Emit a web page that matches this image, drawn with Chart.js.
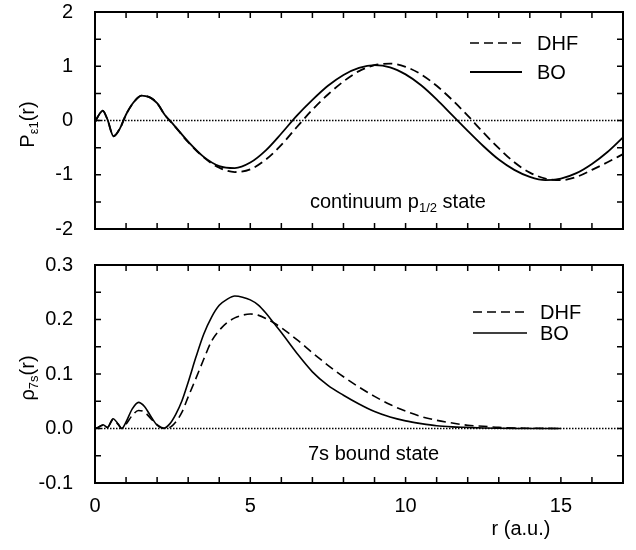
<!DOCTYPE html>
<html>
<head>
<meta charset="utf-8">
<script src="https://cdn.jsdelivr.net/npm/chart.js@4"></script>
<style>
  body { margin: 0; background: #fff; }
  canvas { position: absolute; left: 0; }
</style>
</head>
<body>
<canvas id="topChart" width="636" height="250" style="top:0px"></canvas>
<canvas id="bottomChart" width="636" height="300" style="top:250px"></canvas>
<script>
// ---- top panel: continuum p1/2 wave function ----
const rTop = [0, 0.1, 0.25, 0.4, 0.6, 0.8, 1.0, 1.25, 1.5, 1.75, 2.0, 2.25, 2.5, 3, 3.5, 4, 4.5, 5, 5.5, 6, 6.5, 7, 7.5, 8, 8.5, 9, 9.5, 10, 10.5, 11, 11.5, 12, 12.5, 13, 13.5, 14, 14.5, 15, 15.5, 16, 16.5, 17];
const dhfTop = [-0.03, 0.08, 0.18, 0.02, -0.29, -0.15, 0.11, 0.34, 0.46, 0.43, 0.32, 0.1, -0.06, -0.4, -0.68, -0.87, -0.95, -0.9, -0.72, -0.45, -0.12, 0.2, 0.48, 0.72, 0.91, 1.02, 1.05, 0.99, 0.85, 0.64, 0.38, 0.09, -0.22, -0.51, -0.77, -0.96, -1.07, -1.1, -1.04, -0.91, -0.77, -0.62];
const boTop = [-0.03, 0.08, 0.18, 0.02, -0.29, -0.15, 0.11, 0.34, 0.46, 0.43, 0.32, 0.1, -0.056, -0.39, -0.67, -0.84, -0.877, -0.775, -0.55, -0.24, 0.09, 0.38, 0.64, 0.84, 0.97, 1.02, 0.98, 0.85, 0.65, 0.39, 0.1, -0.19, -0.47, -0.72, -0.91, -1.04, -1.1, -1.07, -0.97, -0.8, -0.58, -0.31];

// ---- bottom panel: 7s bound state density ----
const rBot = [0, 0.1, 0.26, 0.4, 0.58, 0.75, 0.86, 1.0, 1.2, 1.4, 1.6, 1.8, 2.0, 2.2, 2.4, 2.6, 2.8, 3.0, 3.25, 3.5, 3.75, 4, 4.25, 4.5, 4.75, 5, 5.25, 5.5, 5.75, 6, 6.5, 7, 7.5, 8, 8.5, 9, 9.5, 10, 10.5, 11, 11.5, 12, 12.5, 13, 13.5, 14, 14.5, 15];
const dhfBot = [0, 0.002, 0.006, 0.002, 0.016, 0.007, 0.0, 0.008, 0.024, 0.033, 0.03, 0.018, 0.007, 0.001, 0.002, 0.012, 0.03, 0.058, 0.092, 0.127, 0.16, 0.18, 0.194, 0.203, 0.208, 0.21, 0.208, 0.202, 0.194, 0.185, 0.163, 0.139, 0.116, 0.095, 0.076, 0.059, 0.044, 0.032, 0.022, 0.015, 0.01, 0.006, 0.004, 0.002, 0.001, 0.0005, 0.0002, 0];
const boBot = [0, 0.002, 0.007, 0.002, 0.018, 0.008, 0.0, 0.012, 0.036, 0.048, 0.04, 0.022, 0.006, 0.0, 0.008, 0.026, 0.051, 0.085, 0.131, 0.173, 0.204, 0.226, 0.237, 0.243, 0.241, 0.236, 0.227, 0.212, 0.194, 0.176, 0.138, 0.104, 0.079, 0.061, 0.045, 0.031, 0.021, 0.014, 0.009, 0.005, 0.003, 0.002, 0.001, 0.0005, 0.0002, 0, 0, 0];

const zeroLineX = [0, 17];
const zeroLineY = [0, 0];

const xTicksBottom = [0, 5, 10, 15];

const FONT = '"Liberation Sans", Arial, Helvetica, sans-serif';

function pts(xs, ys) {
  return xs.map((x, i) => ({ x: x, y: ys[i] }));
}

// draws a list of text pieces, some as subscripts, starting at x
function drawParts(ctx, parts, x, y) {
  parts.forEach((p) => {
    ctx.font = (p.sub ? '13px ' : '20px ') + FONT;
    ctx.fillText(p.t, x, y + (p.sub ? 4 : 0));
    x += ctx.measureText(p.t).width;
  });
}

function partsWidth(ctx, parts) {
  let w = 0;
  parts.forEach((p) => {
    ctx.font = (p.sub ? '13px ' : '20px ') + FONT;
    w += ctx.measureText(p.t).width;
  });
  return w;
}

function panelPlugin(cfg) {
  return {
    id: 'panel',
    afterDatasetsDraw(chart) {
      const ctx = chart.ctx;
      const a = chart.chartArea;
      const xs = chart.scales.x;
      const ys = chart.scales.y;
      ctx.save();
      ctx.strokeStyle = '#000';
      ctx.fillStyle = '#000';

      // inward ticks on all four sides
      ctx.lineWidth = 1.5;
      ctx.beginPath();
      for (let v = 1; v < 17; v++) {
        const px = xs.getPixelForValue(v);
        ctx.moveTo(px, a.bottom); ctx.lineTo(px, a.bottom - 6);
        ctx.moveTo(px, a.top); ctx.lineTo(px, a.top + 6);
      }
      for (let k = 1; k < cfg.yMinorCount; k++) {
        const py = ys.getPixelForValue(cfg.yMin + k * cfg.yMinor);
        ctx.moveTo(a.left, py); ctx.lineTo(a.left + 6, py);
        ctx.moveTo(a.right, py); ctx.lineTo(a.right - 6, py);
      }
      ctx.stroke();

      // frame
      ctx.lineWidth = 2;
      ctx.strokeRect(a.left, a.top, a.right - a.left, a.bottom - a.top);

      // legend
      ctx.textBaseline = 'middle';
      ctx.textAlign = 'left';
      cfg.legend.forEach((item) => {
        ctx.lineWidth = item.width;
        ctx.setLineDash(item.dash);
        ctx.beginPath();
        ctx.moveTo(cfg.legendX0, item.y);
        ctx.lineTo(cfg.legendX1, item.y);
        ctx.stroke();
        ctx.setLineDash([]);
        ctx.font = '20px ' + FONT;
        ctx.fillText(item.label, cfg.legendTextX, item.y + 1);
      });

      // annotation inside the plot
      ctx.textBaseline = 'alphabetic';
      drawParts(ctx, cfg.note, cfg.noteX, cfg.noteY);

      // y axis title, rotated
      ctx.save();
      ctx.translate(cfg.titleX, (a.top + a.bottom) / 2 + 4);
      ctx.rotate(-Math.PI / 2);
      const w = partsWidth(ctx, cfg.yTitle);
      drawParts(ctx, cfg.yTitle, -w / 2, 0);
      ctx.restore();

      // x axis title
      if (cfg.xTitle) {
        ctx.font = '20px ' + FONT;
        ctx.textAlign = 'center';
        ctx.textBaseline = 'middle';
        ctx.fillText(cfg.xTitle, cfg.xTitleX, cfg.xTitleY);
      }
      ctx.restore();
    }
  };
}

function makeChart(id, series, opt) {
  return new Chart(document.getElementById(id), {
    type: 'line',
    data: {
      datasets: [
        {
          label: 'zero',
          data: pts(zeroLineX, zeroLineY),
          borderColor: '#000',
          borderWidth: 1.5,
          borderDash: [1.5, 1.5],
          pointRadius: 0
        },
        {
          label: 'DHF',
          data: series.dhf,
          borderColor: '#000',
          borderWidth: opt.lineWidth,
          borderDash: [9, 5],
          pointRadius: 0,
          cubicInterpolationMode: 'monotone'
        },
        {
          label: 'BO',
          data: series.bo,
          borderColor: '#000',
          borderWidth: opt.lineWidth,
          pointRadius: 0,
          cubicInterpolationMode: 'monotone'
        }
      ]
    },
    options: {
      responsive: false,
      animation: false,
      layout: { padding: { top: opt.padTop, right: 13, left: 0, bottom: 0 } },
      plugins: { legend: { display: false }, tooltip: { enabled: false } },
      scales: {
        x: {
          type: 'linear',
          min: 0,
          max: 17,
          grid: { display: false },
          border: { display: false },
          afterBuildTicks: (scale) => {
            scale.ticks = xTicksBottom.map((v) => ({ value: v }));
          },
          afterFit: (scale) => {
            scale.height = opt.xHeight;
            scale.paddingLeft = 0;
            scale.paddingRight = 0;
          },
          ticks: {
            display: opt.showX,
            color: '#000',
            font: { family: FONT, size: 20 },
            padding: 3,
            maxRotation: 0
          }
        },
        y: {
          min: opt.yMin,
          max: opt.yMax,
          grid: { display: false },
          border: { display: false },
          afterFit: (scale) => {
            scale.width = 95;
            scale.paddingTop = 0;
            scale.paddingBottom = 0;
          },
          ticks: {
            stepSize: opt.yStep,
            color: '#000',
            font: { family: FONT, size: 20 },
            padding: 14,
            callback: opt.yFormat
          }
        }
      }
    },
    plugins: [panelPlugin(opt.panel)]
  });
}

makeChart('topChart', { dhf: pts(rTop, dhfTop), bo: pts(rTop, boTop) }, {
  padTop: 12, xHeight: 21, showX: false, lineWidth: 1.8,
  yMin: -2, yMax: 2, yStep: 1,
  yFormat: (v) => String(v),
  panel: {
    yMin: -2, yMinor: 0.5, yMinorCount: 8,
    legendX0: 470, legendX1: 522, legendTextX: 537,
    legend: [
      { label: 'DHF', y: 43, dash: [9, 5], width: 1.6 },
      { label: 'BO', y: 72, dash: [], width: 2 }
    ],
    note: [{ t: 'continuum p' }, { t: '1/2', sub: true }, { t: ' state' }],
    noteX: 310, noteY: 208,
    titleX: 34,
    yTitle: [{ t: 'P' }, { t: 'ε1', sub: true }, { t: '(r)' }]
  }
});

makeChart('bottomChart', { dhf: pts(rBot, dhfBot), bo: pts(rBot, boBot) }, {
  padTop: 15, xHeight: 67, showX: true, lineWidth: 1.6,
  yMin: -0.1, yMax: 0.3, yStep: 0.1,
  yFormat: (v) => v.toFixed(1),
  panel: {
    yMin: -0.1, yMinor: 0.05, yMinorCount: 8,
    legendX0: 473, legendX1: 527, legendTextX: 540,
    legend: [
      { label: 'DHF', y: 62, dash: [9, 5], width: 1.5 },
      { label: 'BO', y: 83, dash: [], width: 1.5 }
    ],
    note: [{ t: '7s bound state' }],
    noteX: 308, noteY: 210,
    titleX: 34,
    yTitle: [{ t: 'ρ' }, { t: '7s', sub: true }, { t: '(r)' }],
    xTitle: 'r (a.u.)', xTitleX: 521, xTitleY: 279
  }
});
</script>
</body>
</html>
